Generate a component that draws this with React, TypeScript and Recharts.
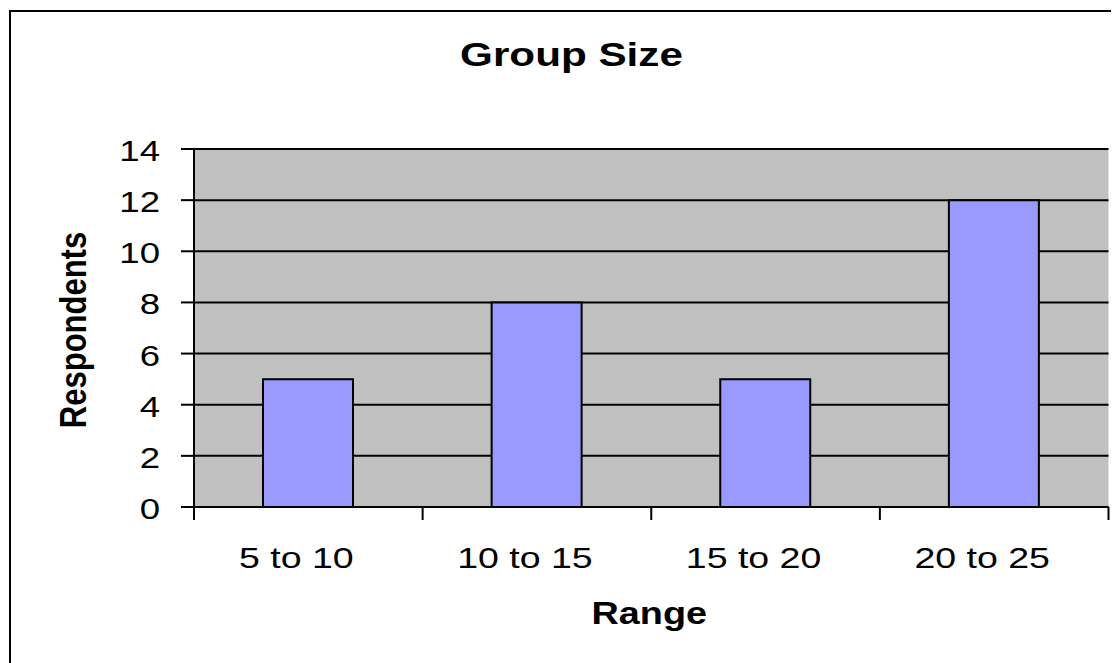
import React from 'react';
import { BarChart, Bar, XAxis, YAxis, CartesianGrid, ReferenceArea } from 'recharts';

const categories = ['5 to 10', '10 to 15', '15 to 20', '20 to 25'];
const respondents = [5, 8, 5, 12];
const yTicks = [0, 2, 4, 6, 8, 10, 12, 14];
const chartTitle = 'Group Size';
const xTitle = 'Range';
const yTitle = 'Respondents';

const data = categories.map((c, i) => ({ range: c, value: respondents[i] }));

const FONT = '"Liberation Sans", Arial, Helvetica, sans-serif';
const SX = 1.22;

const YTick = (props: any) => {
  const { x, y, payload } = props;
  return (
    <text
      transform={`translate(${x},${y + 12}) scale(${SX},1)`}
      textAnchor="end"
      fontFamily={FONT}
      fontSize={30}
      fill="#000"
    >
      {payload.value}
    </text>
  );
};

const XTick = (props: any) => {
  const { x, y, payload, index, width, visibleTicksCount } = props;
  const count = visibleTicksCount || categories.length;
  const half =
    payload && typeof payload.offset === 'number' && payload.offset > 0
      ? payload.offset
      : width / count / 2;
  const last = index === count - 1;
  return (
    <g>
      <line x1={x - half} x2={x - half} y1={y} y2={y + 13} stroke="#000" strokeWidth={2} />
      {last && (
        <line x1={x + half} x2={x + half} y1={y} y2={y + 13} stroke="#000" strokeWidth={2} />
      )}
      <text
        transform={`translate(${x - 12},${y + 61}) scale(1.25,1)`}
        textAnchor="middle"
        fontFamily={FONT}
        fontSize={30}
        fill="#000"
      >
        {payload.value}
      </text>
    </g>
  );
};

const XLabel = (props: any) => {
  const vb = props.viewBox || {};
  const cx = vb.x + vb.width / 2 - 2;
  const y = vb.y + 117;
  return (
    <text
      transform={`translate(${cx},${y}) scale(${SX},1)`}
      textAnchor="middle"
      fontFamily={FONT}
      fontSize={31}
      fontWeight="bold"
      fill="#000"
    >
      {xTitle}
    </text>
  );
};

const YLabel = (props: any) => {
  const vb = props.viewBox || {};
  const cy = vb.y + vb.height / 2 + 2;
  const x = vb.x + 78;
  return (
    <text
      transform={`translate(${x},${cy}) scale(${SX},1) rotate(-90)`}
      textAnchor="middle"
      fontFamily={FONT}
      fontSize={31}
      fontWeight="bold"
      fill="#000"
    >
      {yTitle}
    </text>
  );
};

export default function App() {
  return (
    <div style={{ position: 'relative', width: 1111, height: 655, background: '#fff' }}>
      <div
        style={{
          position: 'absolute',
          left: 1,
          top: 2,
          width: 1110,
          height: 653,
          borderTop: '2px solid #000',
          borderLeft: '2px solid #000',
          boxSizing: 'border-box',
        }}
      />
      <svg
        width={1111}
        height={100}
        style={{ position: 'absolute', left: 0, top: 0 }}
      >
        <text
          transform={`translate(563.5,58) scale(1.28,1)`}
          textAnchor="middle"
          fontFamily={FONT}
          fontSize={33}
          fontWeight="bold"
          fill="#000"
        >
          {chartTitle}
        </text>
      </svg>
      <div style={{ position: 'absolute', left: 0, top: 0 }}>
        <BarChart
          width={1111}
          height={655}
          data={data}
          margin={{ top: 141, right: 10.5, bottom: 96, left: 0 }}
        >
          <CartesianGrid
            vertical={false}
            stroke="#000"
            strokeWidth={2}
            fill="#C0C0C0"
            fillOpacity={1}
          />
          <ReferenceArea fill="none" stroke="#808080" strokeWidth={2} ifOverflow="visible" />
          <XAxis
            dataKey="range"
            height={60}
            tickSize={0}
            tickMargin={0}
            tickLine={false}
            axisLine={{ stroke: '#000', strokeWidth: 2 }}
            tick={<XTick />}
            interval={0}
            label={<XLabel />}
          />
          <YAxis
            width={186}
            domain={[0, 14]}
            ticks={yTicks}
            interval={0}
            tickSize={13}
            tickMargin={21}
            tickLine={{ stroke: '#000', strokeWidth: 2 }}
            axisLine={{ stroke: '#000', strokeWidth: 2 }}
            tick={<YTick />}
            label={<YLabel />}
          />
          <Bar
            dataKey="value"
            fill="#9999FF"
            stroke="#000"
            strokeWidth={2}
            barSize={90}
            isAnimationActive={false}
          />
        </BarChart>
      </div>
    </div>
  );
}
